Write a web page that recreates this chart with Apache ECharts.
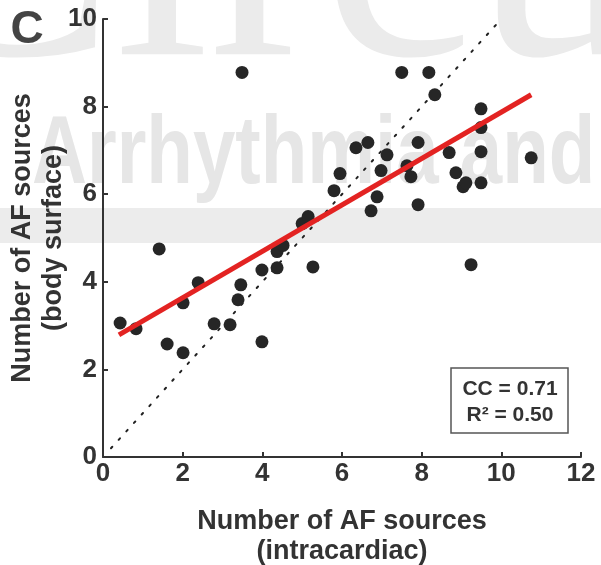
<!DOCTYPE html>
<html>
<head>
<meta charset="utf-8">
<script src="https://cdn.jsdelivr.net/npm/echarts@6/dist/echarts.min.js"></script>
<style>
html,body{margin:0;padding:0;background:#fff;}
#chart{width:601px;height:565px;}
</style>
</head>
<body>
<div id="chart"></div>
<script>
// Intracardiac (x) vs body surface (y) number of AF sources
const intracardiac = [0.43,0.83,1.41,1.61,2.01,2.01,2.39,2.79,3.19,3.39,3.46,3.99,3.49,3.99,4.37,4.37,4.52,5.00,5.15,5.27,5.80,5.95,6.35,6.65,6.73,6.88,6.98,7.13,7.50,7.63,7.73,7.91,7.91,8.18,8.33,8.69,8.86,9.04,9.11,9.24,9.49,9.49,9.49,9.49,10.75];
const bodySurface  = [3.06,2.93,4.75,2.58,2.38,3.52,3.98,3.04,3.02,3.59,3.93,2.63,8.78,4.27,4.32,4.69,4.83,5.33,5.49,4.34,6.08,6.47,7.06,7.18,5.62,5.94,6.54,6.90,8.78,6.65,6.40,7.18,5.76,8.78,8.27,6.95,6.49,6.17,6.26,4.39,7.95,7.52,6.97,6.26,6.83];
// regression line endpoints
const fitX = [0.40, 10.75];
const fitY = [2.79, 8.27];
// identity line endpoints
const identityX = [0.2, 9.9];
const identityY = [0.2, 9.9];
const xTicks = {min:0, max:12, interval:2};
const yTicks = {min:0, max:10, interval:2};
const statLines = ['CC = 0.71', 'R\u00B2 = 0.50'];
const xName = 'Number of AF sources\n(intracardiac)';
const yName = 'Number of AF sources\n(body surface)';
const panelLabel = 'C';

const FONT = '"Liberation Sans", Arial, Helvetica, sans-serif';
const TXT = '#333333';

const chart = echarts.init(document.getElementById('chart'), null, {renderer:'canvas'});

const pts = intracardiac.map((x,i)=>[x, bodySurface[i]]);
const fitPts = fitX.map((x,i)=>[x, fitY[i]]);
const idPts = identityX.map((x,i)=>[x, identityY[i]]);

const axisCommon = {
  axisLine:{show:true, onZero:false, lineStyle:{color:TXT, width:2}},
  axisTick:{show:true, inside:true, length:5, lineStyle:{color:TXT, width:2}},
  splitLine:{show:false},
  axisLabel:{color:TXT, fontSize:26, fontWeight:'bold', fontFamily:FONT},
  nameTextStyle:{color:TXT, fontSize:27, fontWeight:'bold', fontFamily:FONT, lineHeight:30},
  nameLocation:'middle',
  nameMoveOverlap:false
};

const option = {
  backgroundColor:'#ffffff',
  animation:false,
  grid:{left:103, right:20, top:19, bottom:108, containLabel:false, outerBoundsMode:'none'},
  xAxis:Object.assign({}, axisCommon, {
    type:'value', min:xTicks.min, max:xTicks.max, interval:xTicks.interval,
    name:xName, nameGap:50,
    axisLabel:Object.assign({}, axisCommon.axisLabel, {margin:4})
  }),
  yAxis:Object.assign({}, axisCommon, {
    type:'value', min:yTicks.min, max:yTicks.max, interval:yTicks.interval,
    name:yName, nameGap:34, nameRotate:90,
    nameTextStyle:Object.assign({}, axisCommon.nameTextStyle, {lineHeight:31}),
    axisLabel:Object.assign({}, axisCommon.axisLabel, {margin:6})
  }),
  graphic:[
    {type:'rect', silent:true, z:-10, shape:{x:0, y:208, width:601, height:35}, style:{fill:'#ececec'}},
    {type:'text', silent:true, z:-9, x:-112, y:-35,
      style:{text:'Circu', font:'340px "Liberation Serif", "Times New Roman", serif', fill:'#ebebeb', align:'left', verticalAlign:'middle'}},
    {type:'text', silent:true, z:-9, x:32, y:157, scaleX:0.794, originX:0,
      style:{text:'Arrhythmia and', font:'bold 96px "Liberation Sans", Arial, sans-serif', fill:'#e6e6e6', align:'left', verticalAlign:'middle'}},
    {type:'text', z:10, x:27, y:30,
      style:{text:panelLabel, font:'bold 46px '+FONT, fill:'#444444', align:'center', verticalAlign:'middle'}},
    {type:'rect', z:10, shape:{x:451, y:368, width:117, height:65}, style:{fill:'#ffffff', stroke:'#555555', lineWidth:1.5}},
    {type:'text', z:11, x:510, y:389,
      style:{text:statLines[0], font:'bold 21px '+FONT, fill:TXT, align:'center', verticalAlign:'middle'}},
    {type:'text', z:11, x:510, y:415,
      style:{text:statLines[1], font:'bold 21px '+FONT, fill:TXT, align:'center', verticalAlign:'middle'}}
  ],
  series:[
    {
      type:'line', data:idPts, symbol:'none', silent:true, z:2,
      lineStyle:{color:'#222222', width:2, type:[2,9.4], cap:'round'}
    },
    {
      type:'scatter', data:pts, symbol:'circle', symbolSize:13, z:3,
      itemStyle:{color:'#262626', opacity:1}
    },
    {
      type:'line', data:fitPts, symbol:'none', silent:true, z:4,
      lineStyle:{color:'#e32322', width:5}
    }
  ]
};
chart.setOption(option);
</script>
</body>
</html>
